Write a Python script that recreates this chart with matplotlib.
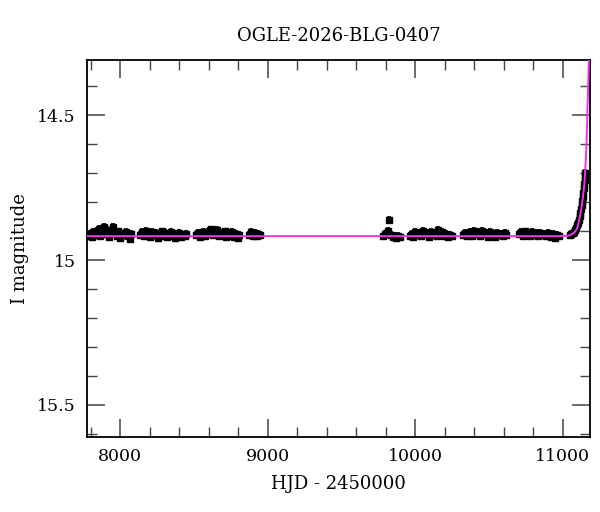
import matplotlib
matplotlib.use("Agg")
import matplotlib.pyplot as plt
import numpy as np
from matplotlib.ticker import MultipleLocator, FormatStrFormatter

# observing seasons (HJD - 2450000, I mag)
t1 = [7782, 7795, 7806, 7818, 7829, 7840, 7853, 7864, 7876, 7889, 7901, 7913, 7925,
      7938, 7950, 7962, 7975, 7988, 8001, 8014, 8027, 8040, 8053, 8066, 8075]
m1 = [14.915, 14.908, 14.921, 14.904, 14.912, 14.899, 14.893, 14.917, 14.902, 14.886,
      14.910, 14.896, 14.920, 14.899, 14.884, 14.907, 14.915, 14.901, 14.924, 14.909,
      14.913, 14.903, 14.918, 14.926, 14.911]

t2 = [8137, 8150, 8163, 8176, 8189, 8202, 8215, 8228, 8241, 8254, 8267, 8280, 8293,
      8306, 8319, 8332, 8345, 8358, 8371, 8384, 8397, 8410, 8423, 8436, 8448]
m2 = [14.912, 14.903, 14.918, 14.898, 14.909, 14.921, 14.902, 14.913, 14.906, 14.924,
      14.910, 14.901, 14.916, 14.907, 14.920, 14.912, 14.904, 14.918, 14.925, 14.911,
      14.906, 14.921, 14.914, 14.917, 14.910]

t3 = [8512, 8525, 8538, 8551, 8564, 8577, 8590, 8603, 8616, 8629, 8642, 8655, 8668,
      8681, 8694, 8707, 8720, 8733, 8746, 8759, 8772, 8785, 8798, 8808]
m3 = [14.914, 14.905, 14.920, 14.909, 14.902, 14.917, 14.908, 14.899, 14.894, 14.912,
      14.903, 14.897, 14.918, 14.906, 14.913, 14.901, 14.921, 14.909, 14.915, 14.904,
      14.919, 14.910, 14.922, 14.912]

t4 = [8872, 8885, 8898, 8911, 8924, 8937, 8945]
m4 = [14.912, 14.903, 14.918, 14.907, 14.915, 14.909, 14.913]

t5 = [9782, 9794, 9806, 9818, 9823, 9834, 9846, 9858, 9870, 9882, 9894]
m5 = [14.918, 14.910, 14.906, 14.900, 14.862, 14.912, 14.921, 14.915, 14.924, 14.917, 14.920]

t6 = [9962, 9975, 9988, 10001, 10014, 10027, 10040, 10053, 10066, 10079, 10092, 10105,
      10118, 10131, 10144, 10157, 10170, 10183, 10196, 10209, 10222, 10235, 10248]
m6 = [14.915, 14.908, 14.919, 14.903, 14.912, 14.905, 14.917, 14.900, 14.910, 14.906,
      14.921, 14.902, 14.913, 14.908, 14.918, 14.897, 14.911, 14.904, 14.916, 14.909,
      14.920, 14.912, 14.915]

t7 = [10322, 10335, 10348, 10361, 10374, 10387, 10400, 10413, 10426, 10439, 10452,
      10465, 10478, 10491, 10504, 10517, 10530, 10543, 10556, 10569, 10582, 10595,
      10608, 10618]
m7 = [14.912, 14.905, 14.918, 14.908, 14.902, 14.915, 14.898, 14.909, 14.904, 14.917,
      14.900, 14.911, 14.906, 14.919, 14.903, 14.912, 14.908, 14.921, 14.905, 14.914,
      14.910, 14.918, 14.907, 14.913]

t8 = [10702, 10715, 10728, 10741, 10754, 10767, 10780, 10793, 10806, 10819, 10832,
      10845, 10858, 10871, 10884, 10897, 10910, 10923, 10936, 10949, 10962, 10975]
m8 = [14.911, 14.904, 14.916, 14.901, 14.909, 14.906, 14.918, 14.903, 14.912, 14.907,
      14.915, 14.905, 14.913, 14.909, 14.917, 14.906, 14.912, 14.920, 14.910, 14.923,
      14.914, 14.918]

t9 = [11048, 11058, 11066, 11074, 11082, 11090, 11097, 11103, 11109, 11114, 11119,
      11124, 11128, 11132, 11136, 11139, 11142, 11145, 11148, 11150, 11152]
m9 = [14.914, 14.910, 14.906, 14.902, 14.896, 14.889, 14.880, 14.870, 14.860, 14.848,
      14.836, 14.823, 14.810, 14.797, 14.782, 14.768, 14.752, 14.738, 14.722, 14.708,
      14.700]

# model curve
model_t = [7700, 10900, 10976, 11044, 11078, 11098, 11112, 11126, 11132, 11139,
           11146, 11153, 11160, 11166, 11173, 11180, 11190]
model_m = [14.917, 14.917, 14.917, 14.915, 14.905, 14.890, 14.860, 14.820, 14.800,
           14.770, 14.740, 14.680, 14.610, 14.500, 14.380, 14.250, 14.000]

title = "OGLE-2026-BLG-0407"

plt.rcParams["font.family"] = ["DejaVu Serif"]

fig = plt.figure(figsize=(6, 5.12), dpi=100)
ax = fig.add_axes([0.145, 0.147, 0.838, 0.735])

seasons = [(t1, m1), (t2, m2), (t3, m3), (t4, m4), (t5, m5), (t6, m6),
           (t7, m7), (t8, m8), (t9, m9)]
for t, m in seasons:
    ax.errorbar(t, m, yerr=0.01, fmt="s", color="black", ms=4.5,
                elinewidth=1.6, capsize=1.5, capthick=1.2, zorder=2)

ax.plot(model_t, model_m, color="#ee33ee", lw=1.4, zorder=3)

ax.set_xlim(7775, 11183)
ax.set_ylim(15.61, 14.31)

ax.xaxis.set_major_locator(MultipleLocator(1000))
ax.xaxis.set_minor_locator(MultipleLocator(200))
ax.yaxis.set_major_locator(MultipleLocator(0.5))
ax.yaxis.set_minor_locator(MultipleLocator(0.1))
ax.yaxis.set_major_formatter(FormatStrFormatter("%g"))

ax.tick_params(which="both", direction="in", top=True, right=True,
               color="#444444", labelsize=12.5)
ax.tick_params(which="major", length=13, width=1.1, pad=8)
ax.tick_params(which="minor", length=7, width=1.0)
for s in ax.spines.values():
    s.set_linewidth(1.3)

ax.set_title(title, fontsize=13, pad=14)
ax.set_xlabel("HJD - 2450000", fontsize=13, labelpad=7)
ax.set_ylabel("I magnitude", fontsize=13, labelpad=6)

plt.savefig("out.png", dpi=100)
